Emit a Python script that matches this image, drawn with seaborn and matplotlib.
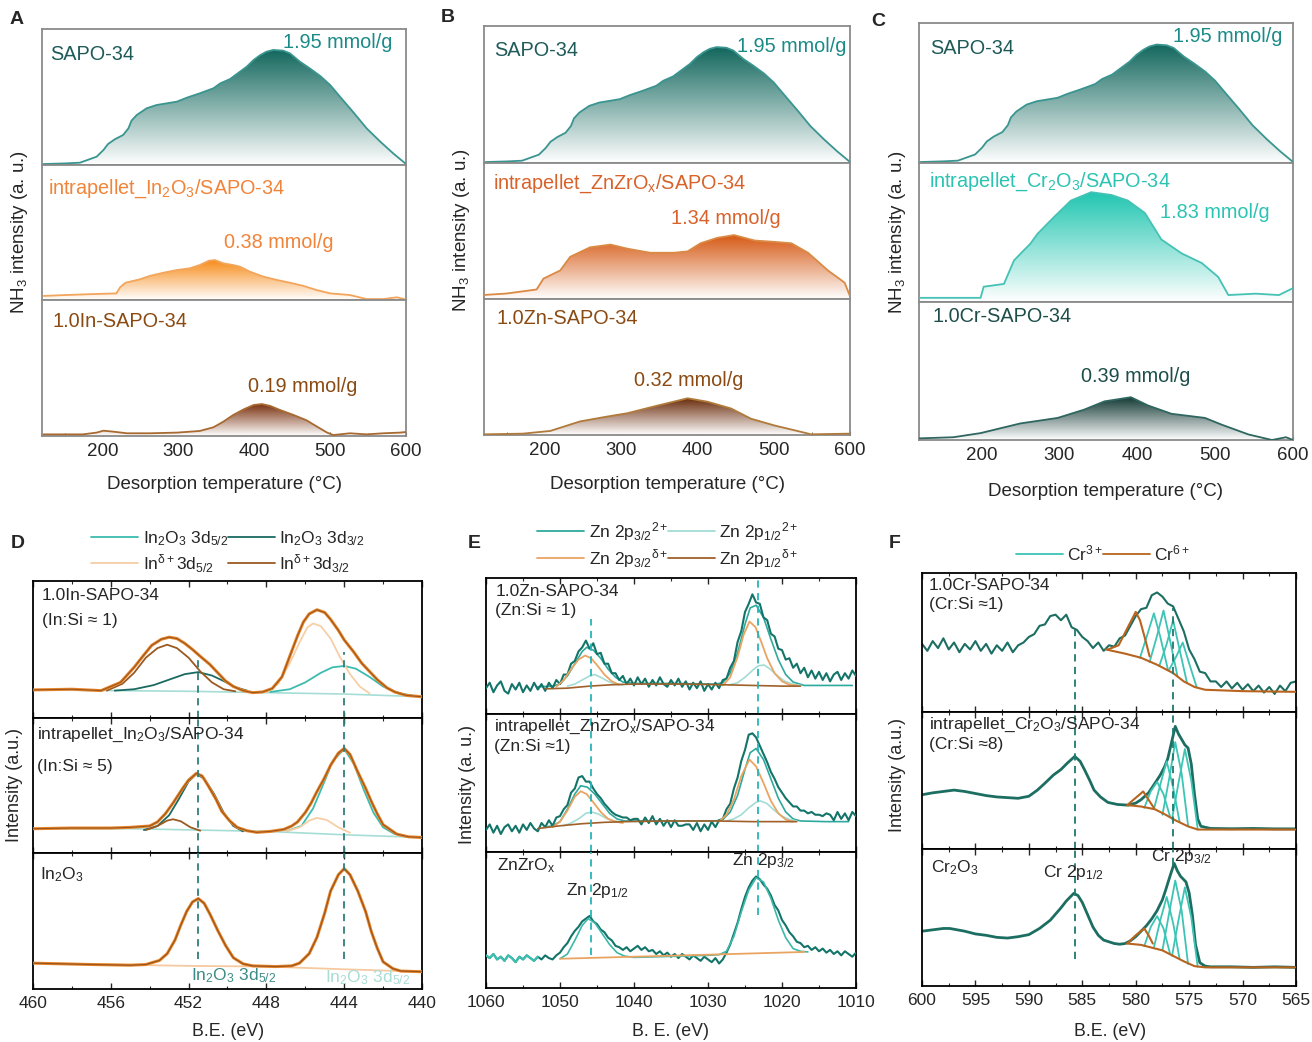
import numpy as np
import seaborn as sns
import matplotlib
matplotlib.use('Agg')
import matplotlib.pyplot as plt
from matplotlib.colors import LinearSegmentedColormap
from matplotlib.patches import Polygon
from matplotlib.lines import Line2D

sns.set_style('white')
plt.rcParams['font.family'] = ['Liberation Sans', 'DejaVu Sans']
plt.rcParams['mathtext.fontset'] = 'custom'
plt.rcParams['mathtext.rm'] = 'Liberation Sans'
plt.rcParams['mathtext.it'] = 'Liberation Sans:italic'
plt.rcParams['mathtext.bf'] = 'Liberation Sans:bold'
plt.rcParams['mathtext.default'] = 'regular'

# ---------------- NH3-TPD data (temperature in C, intensity as fraction of sub-panel) ----------------
SAPO_T = [122, 152, 170, 192, 201, 207, 216, 227, 234, 238, 245, 258, 271, 284, 298, 311, 328, 346, 355,
          368, 381, 390, 399, 408, 416, 425, 438, 447, 460, 473, 487, 500, 513, 531, 548, 566, 583, 599]
SAPO_Y = [0.007, 0.012, 0.017, 0.061, 0.110, 0.154, 0.189, 0.221, 0.270, 0.326, 0.368, 0.417, 0.441, 0.453,
          0.466, 0.495, 0.527, 0.564, 0.600, 0.632, 0.686, 0.723, 0.772, 0.809, 0.833, 0.846, 0.841, 0.821,
          0.760, 0.711, 0.654, 0.588, 0.502, 0.385, 0.270, 0.172, 0.086, 0.012]

IN_PEL_T = [122, 152, 188, 218, 223, 230, 249, 262, 280, 298, 315, 328, 340, 348, 359, 372, 381, 394, 412,
            430, 447, 465, 482, 500, 526, 548, 570, 588, 599]
IN_PEL_Y = [0.030, 0.037, 0.044, 0.049, 0.094, 0.128, 0.153, 0.178, 0.202, 0.222, 0.235, 0.259, 0.291, 0.296,
            0.272, 0.259, 0.247, 0.210, 0.173, 0.148, 0.128, 0.104, 0.074, 0.049, 0.037, 0.007, 0.007, 0.020, 0.005]

IN_SAPO_T = [122, 174, 192, 201, 214, 232, 262, 298, 328, 346, 359, 372, 386, 399, 410, 421, 434, 452, 469,
             482, 496, 504, 526, 548, 570, 592, 599]
IN_SAPO_Y = [0.012, 0.012, 0.025, 0.039, 0.032, 0.020, 0.020, 0.025, 0.037, 0.064, 0.105, 0.154, 0.196, 0.228,
             0.235, 0.221, 0.191, 0.154, 0.115, 0.071, 0.025, 0.007, 0.020, 0.012, 0.020, 0.025, 0.029]

ZN_PEL_T = [121, 149, 189, 198, 220, 233, 259, 286, 308, 338, 369, 387, 404, 426, 448, 475, 501, 523, 545, 571, 593, 600]
ZN_PEL_Y = [0.03, 0.04, 0.07, 0.15, 0.21, 0.31, 0.38, 0.40, 0.37, 0.34, 0.34, 0.35, 0.41, 0.45, 0.47, 0.43,
            0.42, 0.41, 0.34, 0.21, 0.12, 0.02]

ZN_SAPO_T = [121, 171, 207, 246, 281, 308, 343, 387, 413, 444, 470, 501, 527, 549, 600]
ZN_SAPO_Y = [0.005, 0.01, 0.03, 0.10, 0.135, 0.16, 0.21, 0.27, 0.245, 0.195, 0.12, 0.07, 0.035, 0.005, 0.01]

CR_PEL_T = [121, 199, 203, 229, 242, 263, 272, 293, 315, 341, 367, 388, 410, 431, 457, 483, 504, 517, 552, 582, 600]
CR_PEL_Y = [0.03, 0.03, 0.11, 0.13, 0.30, 0.42, 0.49, 0.61, 0.73, 0.79, 0.77, 0.73, 0.64, 0.45, 0.35, 0.28,
            0.18, 0.05, 0.06, 0.05, 0.10]

CR_SAPO_T = [121, 164, 199, 250, 298, 332, 358, 392, 414, 444, 487, 509, 543, 573, 591, 600]
CR_SAPO_Y = [0.012, 0.02, 0.05, 0.12, 0.16, 0.22, 0.28, 0.31, 0.25, 0.19, 0.16, 0.11, 0.04, 0.0, 0.02, 0.0]

# ---------------- In 3d XPS (panel D) ----------------
D1_ENV = [(460, 0.205), (458, 0.21), (456.5, 0.20), (455.5, 0.26), (454.8, 0.37), (454.3, 0.46), (453.9, 0.53),
          (453.4, 0.575), (453.0, 0.59), (452.6, 0.58), (452.2, 0.545), (451.8, 0.50), (451.4, 0.45),
          (450.9, 0.39), (450.5, 0.33), (450.1, 0.27), (449.7, 0.23), (449.2, 0.20), (448.7, 0.185),
          (448.2, 0.19), (447.7, 0.215), (447.2, 0.30), (446.8, 0.45), (446.4, 0.60), (446.1, 0.70),
          (445.8, 0.76), (445.4, 0.79), (445.0, 0.77), (444.7, 0.72), (444.3, 0.64), (444.0, 0.57),
          (443.5, 0.48), (443.1, 0.40), (442.7, 0.34), (442.3, 0.28), (441.8, 0.22), (441.4, 0.19),
          (440.8, 0.165), (440, 0.155)]
D1_BG = [(460, 0.205), (452, 0.195), (448, 0.185), (444, 0.175), (440, 0.155)]
D1_IN2O3_52 = [(447.8, 0.19), (446.8, 0.21), (446.0, 0.26), (445.2, 0.33), (444.6, 0.37), (444.0, 0.38),
               (443.4, 0.36), (442.7, 0.30), (442.0, 0.23), (441.2, 0.18), (440.5, 0.165)]
D1_IN2O3_32 = [(455.8, 0.20), (454.8, 0.21), (453.8, 0.24), (453.0, 0.28), (452.2, 0.32), (451.5, 0.335),
               (450.8, 0.31), (450.2, 0.27), (449.6, 0.225), (449.0, 0.20)]
D1_IND_52 = [(448.0, 0.19), (447.4, 0.25), (446.8, 0.40), (446.3, 0.55), (445.9, 0.66), (445.6, 0.69),
             (445.2, 0.67), (444.7, 0.58), (444.2, 0.44), (443.7, 0.32), (443.2, 0.23), (442.7, 0.18)]
D1_IND_32 = [(456.2, 0.20), (455.4, 0.25), (454.8, 0.33), (454.2, 0.44), (453.6, 0.51), (453.1, 0.535),
             (452.6, 0.51), (452.0, 0.44), (451.4, 0.34), (450.8, 0.26), (450.2, 0.21), (449.6, 0.195)]

D2_ENV = [(460, 0.18), (458, 0.185), (456, 0.185), (455, 0.19), (454, 0.20), (453.6, 0.23), (453.2, 0.29),
          (452.8, 0.37), (452.3, 0.48), (452.0, 0.54), (451.6, 0.59), (451.3, 0.57), (451.0, 0.50),
          (450.6, 0.40), (450.3, 0.31), (449.9, 0.24), (449.5, 0.19), (449.0, 0.165), (448.5, 0.153),
          (447.8, 0.16), (447.1, 0.175), (446.7, 0.20), (446.4, 0.23), (446.0, 0.30), (445.7, 0.37),
          (445.4, 0.455), (445.0, 0.56), (444.7, 0.65), (444.3, 0.74), (444.0, 0.775), (443.7, 0.73),
          (443.3, 0.60), (442.9, 0.48), (442.6, 0.38), (442.3, 0.29), (442.0, 0.21), (441.6, 0.17),
          (441.3, 0.14), (440.7, 0.12), (440, 0.115)]
D2_BG = [(460, 0.18), (455, 0.18), (451.5, 0.17), (448, 0.16), (444, 0.135), (440, 0.115)]
D2_IN2O3_52 = [(447.0, 0.16), (446.2, 0.20), (445.6, 0.33), (445.1, 0.50), (444.6, 0.68), (444.0, 0.77),
               (443.5, 0.66), (443.0, 0.47), (442.5, 0.30), (442.0, 0.19), (441.4, 0.14)]
D2_IN2O3_32 = [(454.3, 0.17), (453.6, 0.20), (453.0, 0.28), (452.5, 0.40), (452.0, 0.53), (451.6, 0.585),
               (451.2, 0.55), (450.7, 0.44), (450.2, 0.30), (449.7, 0.20), (449.2, 0.16)]
D2_IND_52 = [(447.0, 0.16), (446.3, 0.19), (445.8, 0.24), (445.4, 0.26), (444.9, 0.245), (444.3, 0.19), (443.7, 0.15)]
D2_IND_32 = [(454.2, 0.17), (453.6, 0.20), (453.1, 0.24), (452.8, 0.25), (452.4, 0.235), (451.9, 0.19), (451.4, 0.165)]

D3_ENV = [(460, 0.19), (457, 0.18), (455, 0.175), (454.2, 0.18), (453.5, 0.21), (453.1, 0.26), (452.7, 0.36),
          (452.4, 0.47), (452.1, 0.57), (451.8, 0.64), (451.5, 0.665), (451.2, 0.63), (450.9, 0.55),
          (450.5, 0.43), (450.1, 0.32), (449.7, 0.23), (449.2, 0.185), (448.7, 0.17), (447.5, 0.165),
          (446.7, 0.17), (446.3, 0.19), (445.8, 0.26), (445.4, 0.38), (445.0, 0.56), (444.7, 0.72),
          (444.3, 0.84), (444.0, 0.885), (443.7, 0.84), (443.3, 0.72), (442.9, 0.57), (442.6, 0.42),
          (442.3, 0.30), (442.0, 0.20), (441.5, 0.15), (441.1, 0.132), (440, 0.127)]
D3_BG = [(460, 0.19), (452, 0.17), (448, 0.165), (444, 0.145), (440, 0.127)]
D_REF = [451.5, 444.0]

# ---------------- Zn 2p XPS (panel E), raw on a 0.5 eV grid 1060 -> 1010 ----------------
E_GRID = np.arange(1060, 1009.75, -0.5)
E1_RAW = [0.19, 0.23, 0.16, 0.21, 0.24, 0.17, 0.15, 0.22, 0.18, 0.23,
          0.16, 0.21, 0.17, 0.23, 0.18, 0.22, 0.17, 0.23, 0.19, 0.25,
          0.22, 0.29, 0.29, 0.37, 0.39, 0.46, 0.49, 0.54, 0.48, 0.52,
          0.44, 0.45, 0.37, 0.37, 0.30, 0.30, 0.25, 0.28, 0.22, 0.26,
          0.21, 0.27, 0.22, 0.26, 0.20, 0.25, 0.21, 0.27, 0.22, 0.20,
          0.25, 0.21, 0.26, 0.20, 0.24, 0.18, 0.23, 0.19, 0.24, 0.17,
          0.22, 0.18, 0.23, 0.19, 0.25, 0.26, 0.34, 0.39, 0.53, 0.61,
          0.75, 0.81, 0.88, 0.82, 0.81, 0.71, 0.69, 0.59, 0.57, 0.48,
          0.47, 0.40, 0.41, 0.34, 0.37, 0.30, 0.34, 0.27, 0.32, 0.26,
          0.31, 0.25, 0.30, 0.24, 0.29, 0.31, 0.25, 0.30, 0.26, 0.32, 0.28]
E2_RAW = [0.16, 0.20, 0.14, 0.19, 0.13, 0.18, 0.20, 0.15, 0.19, 0.14,
          0.20, 0.16, 0.21, 0.17, 0.15, 0.21, 0.18, 0.23, 0.19, 0.25,
          0.26, 0.31, 0.34, 0.43, 0.46, 0.54, 0.55, 0.51, 0.51, 0.46,
          0.42, 0.39, 0.35, 0.32, 0.29, 0.27, 0.26, 0.25, 0.25, 0.23,
          0.24, 0.24, 0.20, 0.25, 0.21, 0.26, 0.20, 0.24, 0.19, 0.23,
          0.18, 0.23, 0.19, 0.19, 0.20, 0.20, 0.16, 0.21, 0.15, 0.20,
          0.16, 0.22, 0.18, 0.23, 0.24, 0.31, 0.35, 0.46, 0.54, 0.66,
          0.74, 0.85, 0.86, 0.83, 0.77, 0.71, 0.65, 0.58, 0.53, 0.47,
          0.43, 0.39, 0.36, 0.33, 0.33, 0.30, 0.30, 0.28, 0.29, 0.27,
          0.27, 0.26, 0.28, 0.27, 0.23, 0.29, 0.24, 0.28, 0.23, 0.29, 0.26]
E3_RAW = [0.24, 0.22, 0.25, 0.21, 0.23, 0.20, 0.24, 0.22, 0.19, 0.23,
          0.21, 0.24, 0.22, 0.20, 0.23, 0.21, 0.24, 0.22, 0.21, 0.24,
          0.26, 0.30, 0.33, 0.38, 0.42, 0.45, 0.49, 0.51, 0.53, 0.49,
          0.47, 0.43, 0.41, 0.37, 0.35, 0.31, 0.30, 0.28, 0.30, 0.27,
          0.29, 0.31, 0.28, 0.30, 0.27, 0.28, 0.25, 0.27, 0.24, 0.26,
          0.23, 0.25, 0.22, 0.25, 0.23, 0.21, 0.24, 0.22, 0.20, 0.23,
          0.21, 0.19, 0.22, 0.18, 0.21, 0.26, 0.32, 0.40, 0.48, 0.58,
          0.67, 0.74, 0.79, 0.82, 0.80, 0.76, 0.73, 0.68, 0.61, 0.57,
          0.50, 0.46, 0.41, 0.38, 0.34, 0.33, 0.30, 0.31, 0.28, 0.30,
          0.27, 0.29, 0.26, 0.28, 0.25, 0.27, 0.24, 0.27, 0.25, 0.23, 0.26]

E1_FIT = [(1053, 0.20), (1051, 0.205), (1050, 0.22), (1049, 0.28), (1048, 0.37), (1047, 0.46), (1046.4, 0.49),
          (1045.5, 0.47), (1044.5, 0.41), (1043.5, 0.33), (1042.5, 0.27), (1041.5, 0.235), (1040, 0.225),
          (1035, 0.225), (1029, 0.22), (1028, 0.23), (1027, 0.30), (1026, 0.45), (1025, 0.66), (1024.3, 0.78),
          (1023.5, 0.80), (1022.5, 0.71), (1021.5, 0.55), (1020.5, 0.40), (1019.5, 0.29), (1018.5, 0.235),
          (1017, 0.21), (1013, 0.21), (1010.5, 0.21)]
E1_OR_A = [(1050.5, 0.20), (1049.5, 0.25), (1048.5, 0.33), (1047.5, 0.40), (1046.6, 0.43), (1045.8, 0.41),
           (1045, 0.36), (1044, 0.29), (1043, 0.24), (1042, 0.215)]
E1_OR_B = [(1028, 0.21), (1027, 0.27), (1026, 0.42), (1025.2, 0.58), (1024.4, 0.68), (1023.6, 0.64),
           (1022.8, 0.53), (1022, 0.41), (1021, 0.30), (1020, 0.24), (1019, 0.215), (1018, 0.21)]
E1_LT_A = [(1049, 0.205), (1048, 0.22), (1047, 0.25), (1046, 0.28), (1045.3, 0.29), (1044.5, 0.27),
           (1043.5, 0.24), (1042.5, 0.22), (1041.5, 0.215)]
E1_LT_B = [(1027, 0.215), (1026, 0.23), (1025, 0.27), (1024, 0.32), (1023.2, 0.355), (1022.4, 0.36),
           (1021.6, 0.33), (1020.6, 0.28), (1019.6, 0.24), (1018.6, 0.22), (1017.5, 0.21)]
E1_BG = [(1052, 0.185), (1049, 0.19), (1046, 0.205), (1043, 0.215), (1040, 0.22), (1033, 0.22), (1028, 0.215),
         (1024, 0.21), (1020, 0.205), (1017.5, 0.205)]

E2_FIT = [(1052, 0.18), (1051, 0.19), (1050, 0.22), (1049, 0.31), (1048, 0.42), (1047.2, 0.48), (1046.3, 0.47),
          (1045.3, 0.42), (1044.3, 0.35), (1043.3, 0.28), (1042.3, 0.24), (1041.3, 0.225), (1036, 0.225),
          (1029, 0.225), (1028, 0.235), (1027, 0.29), (1026, 0.41), (1025, 0.60), (1024.3, 0.72), (1023.5, 0.75),
          (1022.5, 0.67), (1021.5, 0.53), (1020.5, 0.39), (1019.5, 0.29), (1018.5, 0.24), (1017.5, 0.225),
          (1014, 0.22), (1011, 0.22)]
E2_OR_A = [(1051, 0.18), (1050, 0.22), (1049, 0.30), (1048, 0.40), (1047.2, 0.44), (1046.4, 0.42),
           (1045.5, 0.36), (1044.5, 0.29), (1043.5, 0.24), (1042.5, 0.22), (1041.5, 0.21)]
E2_OR_B = [(1028.5, 0.22), (1027.5, 0.27), (1026.5, 0.38), (1025.5, 0.55), (1024.4, 0.67), (1023.5, 0.62),
           (1022.5, 0.50), (1021.5, 0.37), (1020.5, 0.28), (1019.5, 0.235), (1018.5, 0.22)]
E2_LT_A = [(1049.5, 0.19), (1048.5, 0.21), (1047.5, 0.24), (1046.5, 0.28), (1045.7, 0.29), (1044.8, 0.275),
           (1043.8, 0.245), (1042.8, 0.225), (1041.8, 0.22)]
E2_LT_B = [(1027.5, 0.225), (1026.5, 0.24), (1025.5, 0.27), (1024.5, 0.32), (1023.5, 0.36), (1022.9, 0.37),
           (1022, 0.35), (1021, 0.30), (1020, 0.26), (1019, 0.235), (1018, 0.225)]
E2_BG = [(1053, 0.17), (1050, 0.19), (1047, 0.205), (1044, 0.215), (1041, 0.22), (1035, 0.225), (1029, 0.225),
         (1024, 0.22), (1020, 0.22), (1018, 0.22)]

E3_FIT = [(1050, 0.215), (1049, 0.25), (1048, 0.35), (1047, 0.46), (1046.2, 0.51), (1045.3, 0.48), (1044.3, 0.40),
          (1043.3, 0.32), (1042.3, 0.26), (1041.3, 0.235), (1040, 0.225), (1030, 0.24), (1028.5, 0.245),
          (1027.5, 0.27), (1026.5, 0.38), (1025.5, 0.56), (1024.5, 0.72), (1023.5, 0.81), (1022.5, 0.78),
          (1021.5, 0.66), (1020.5, 0.50), (1019.5, 0.37), (1018.5, 0.29), (1017.5, 0.27), (1016.5, 0.265)]
E3_BG = [(1050, 0.215), (1040, 0.23), (1030, 0.245), (1017, 0.265)]
E_REF = [1045.8, 1023.3]

# ---------------- Cr 2p XPS (panel F) ----------------
F_GRID = np.arange(600, 564.75, -0.5)
F1_RAW = [0.49, 0.44, 0.51, 0.46, 0.53, 0.45, 0.50, 0.43, 0.49, 0.45,
          0.51, 0.44, 0.49, 0.42, 0.48, 0.44, 0.50, 0.43, 0.48, 0.50,
          0.54, 0.56, 0.62, 0.63, 0.69, 0.70, 0.66, 0.70, 0.61, 0.59,
          0.54, 0.51, 0.46, 0.50, 0.44, 0.48, 0.47, 0.53, 0.55, 0.62,
          0.69, 0.74, 0.75, 0.84, 0.86, 0.83, 0.78, 0.76, 0.67, 0.58,
          0.45, 0.38, 0.29, 0.28, 0.22, 0.22, 0.18, 0.22, 0.17, 0.21,
          0.16, 0.20, 0.15, 0.19, 0.14, 0.18, 0.13, 0.19, 0.15, 0.21, 0.22]
F1_BG = [(582.8, 0.45), (581, 0.42), (579.5, 0.39), (578, 0.34), (576.5, 0.28), (575.5, 0.22), (574.5, 0.18),
         (573.5, 0.16), (570, 0.15), (565, 0.145)]
F1_CR6 = [(582.6, 0.45), (581.6, 0.48), (580.8, 0.60), (580.0, 0.72), (579.6, 0.66), (579.1, 0.52), (578.7, 0.40)]
F1_CR3 = [[(579.6, 0.39), (578.9, 0.56), (578.3, 0.71), (577.7, 0.54), (577.0, 0.31)],
          [(578.7, 0.36), (578.0, 0.55), (577.4, 0.73), (576.8, 0.52), (576.1, 0.26)],
          [(577.8, 0.33), (577.1, 0.49), (576.5, 0.66), (575.9, 0.45), (575.2, 0.21)],
          [(576.9, 0.30), (576.2, 0.40), (575.6, 0.50), (575.0, 0.35), (574.3, 0.18)]]

F2_BE = [600, 599, 598, 597, 596, 595, 594, 593, 592, 591, 590, 589.2, 588.5, 587.7, 587, 586.4, 585.7, 585.2,
         584.8, 584.3, 583.9, 583.3, 582.6, 581.7, 580.7, 580, 579.5, 578.8, 578.2, 577.7, 577.3, 577, 576.7,
         576.3, 576, 575.7, 575.4, 575.1, 574.8, 574.5, 574.2, 573.9, 573, 571, 569, 567, 565]
F2_RAW = [0.396, 0.41, 0.42, 0.43, 0.42, 0.405, 0.39, 0.38, 0.375, 0.37, 0.385, 0.43, 0.48, 0.54, 0.58, 0.627,
          0.676, 0.64, 0.58, 0.50, 0.43, 0.38, 0.34, 0.325, 0.32, 0.335, 0.36, 0.41, 0.48, 0.54, 0.60, 0.66,
          0.76, 0.895, 0.84, 0.80, 0.76, 0.737, 0.62, 0.40, 0.22, 0.166, 0.15, 0.148, 0.15, 0.147, 0.147]
F2_BG = [(580.7, 0.32), (579.5, 0.31), (578.2, 0.29), (577.2, 0.25), (576.3, 0.21), (575.1, 0.165),
         (574.2, 0.142), (570, 0.142), (565, 0.142)]
F2_CR6 = [(580.8, 0.32), (580.2, 0.36), (579.3, 0.42), (578.8, 0.36), (578.3, 0.30)]
F2_CR3 = [[(579.2, 0.30), (578.6, 0.42), (578.0, 0.49), (577.4, 0.40), (576.8, 0.24)],
          [(578.3, 0.29), (577.7, 0.47), (577.1, 0.64), (576.5, 0.45), (575.9, 0.20)],
          [(577.5, 0.25), (576.9, 0.50), (576.3, 0.78), (575.7, 0.55), (575.1, 0.17)],
          [(576.6, 0.22), (576.0, 0.48), (575.4, 0.73), (574.8, 0.50), (574.2, 0.145)]]

F3_BE = [600, 599, 598, 597.4, 596, 595, 594, 593, 592, 591, 590, 589, 588, 587, 586.5, 585.8, 585.4, 585,
         584.5, 584, 583.5, 583, 582, 581.5, 581, 580.5, 580, 579.5, 579, 578.5, 578, 577.5, 577.2, 576.8,
         576.4, 576.1, 575.8, 575.3, 575, 574.7, 574.4, 574, 573.5, 573, 571, 569, 567, 565]
F3_RAW = [0.40, 0.41, 0.42, 0.42, 0.40, 0.38, 0.37, 0.355, 0.35, 0.36, 0.375, 0.42, 0.48, 0.57, 0.62, 0.676,
          0.66, 0.61, 0.52, 0.43, 0.37, 0.335, 0.31, 0.305, 0.31, 0.33, 0.36, 0.40, 0.44, 0.49, 0.55, 0.63,
          0.70, 0.80, 0.895, 0.84, 0.80, 0.76, 0.68, 0.52, 0.30, 0.17, 0.145, 0.14, 0.14, 0.136, 0.14, 0.136]
F3_BG = [(580.8, 0.31), (579.5, 0.30), (578.5, 0.28), (577.5, 0.26), (576.5, 0.22), (575.5, 0.18),
         (574.5, 0.145), (573.5, 0.136), (565, 0.136)]
F3_CR6 = [(580.8, 0.31), (580.0, 0.37), (579.2, 0.42), (578.8, 0.37), (578.4, 0.31)]
F3_CR3 = [[(579.2, 0.29), (578.6, 0.43), (578.0, 0.51), (577.4, 0.42), (576.8, 0.24)],
          [(578.3, 0.28), (577.7, 0.48), (577.1, 0.65), (576.5, 0.46), (575.9, 0.20)],
          [(577.5, 0.26), (576.9, 0.52), (576.3, 0.77), (575.7, 0.55), (575.1, 0.16)],
          [(576.6, 0.22), (576.0, 0.48), (575.4, 0.72), (574.8, 0.50), (574.2, 0.14)]]
F_REF = [585.7, 576.5]

# ---------------- figure helpers ----------------
W, H = 1312, 1042
fig = plt.figure(figsize=(W / 100, H / 100), dpi=100)


def box(l, t, r, b):
    return fig.add_axes([l / W, 1 - b / H, (r - l) / W, (b - t) / H])


def txt(x, y, s, **kw):
    kw.setdefault('va', 'center')
    kw.setdefault('ha', 'left')
    fig.text(x / W, 1 - y / H, s, **kw)


def line(ax, xs, ys, c, lw, z=2):
    sns.lineplot(x=list(xs), y=list(ys), ax=ax, color=c, lw=lw, sort=False,
                 estimator=None, legend=False, zorder=z)


def pline(ax, pts, c, lw, z=2):
    xs, ys = zip(*pts)
    line(ax, xs, ys, c, lw, z)


def grad_fill(ax, xs, ys, color):
    xs = np.asarray(xs, float)
    ys = np.asarray(ys, float)
    verts = np.column_stack([np.r_[xs, xs[::-1]], np.r_[ys, np.zeros_like(ys)]])
    poly = Polygon(verts, closed=True, fc='none', ec='none')
    ax.add_patch(poly)
    cmap = LinearSegmentedColormap.from_list('g', ['white', color])
    im = ax.imshow(np.linspace(0, 1, 256).reshape(-1, 1), cmap=cmap, aspect='auto', origin='lower',
                   extent=[xs.min(), xs.max(), 0, ys.max()], zorder=1)
    im.set_clip_path(poly)


def tpd_panel(l, r, rows, curves):
    axs = []
    for i, ((t, b), (xs, ys, fc, lc)) in enumerate(zip(rows, curves)):
        ax = box(l, t, r, b)
        grad_fill(ax, xs, ys, fc)
        line(ax, xs, ys, lc, 1.3, 3)
        ax.set_xlim(120, 600)
        ax.set_ylim(0, 1)
        ax.set_yticks([])
        for s in ax.spines.values():
            s.set_color('#8a8a8a')
            s.set_linewidth(1.3)
        if i == 2:
            ax.set_xticks([200, 300, 400, 500, 600])
            ax.set_xticks([150, 250, 350, 450, 550], minor=True)
            ax.tick_params(axis='x', which='both', direction='in', bottom=True, labelsize=13.5,
                           pad=5, color='#555555')
            ax.tick_params(axis='x', which='major', length=3)
            ax.tick_params(axis='x', which='minor', length=2)
        else:
            ax.set_xticks([])
        axs.append(ax)
    return axs


def xps_panel(l, r, rows, xlim, major, minor):
    axs = []
    for i, (t, b) in enumerate(rows):
        ax = box(l, t, r, b)
        ax.set_xlim(*xlim)
        ax.set_ylim(0, 1)
        ax.set_yticks([])
        ax.set_xticks(major)
        ax.set_xticks(minor, minor=True)
        ax.tick_params(axis='x', which='both', direction='in', top=True, bottom=True,
                       labelbottom=(i == 2), labelsize=12.5, pad=5)
        ax.tick_params(axis='x', which='major', length=4, width=1)
        ax.tick_params(axis='x', which='minor', length=2.5, width=0.8)
        for s in ax.spines.values():
            s.set_color('black')
            s.set_linewidth(1.3)
        axs.append(ax)
    return axs


def refs(ax, xs, spans, color):
    for x, (lo, hi) in zip(xs, spans):
        ax.axvline(x, ymin=lo, ymax=hi, color=color, lw=1.3, ls=(0, (4, 3)), zorder=5)


# ---------------- panels A-C (NH3-TPD) ----------------
C_SAPO = ('#12675d', '#3a9590')
tpd_panel(42, 406, [(29, 165), (165, 300), (300, 436)],
          [(SAPO_T, SAPO_Y) + C_SAPO,
           (IN_PEL_T, IN_PEL_Y, '#f78d1c', '#f3a55c'),
           (IN_SAPO_T, IN_SAPO_Y, '#7a3210', '#a86a30')])
tpd_panel(484, 850, [(26, 163), (163, 299), (299, 435)],
          [(SAPO_T, SAPO_Y) + C_SAPO,
           (ZN_PEL_T, ZN_PEL_Y, '#d65a16', '#d98a45'),
           (ZN_SAPO_T, ZN_SAPO_Y, '#6a2c0c', '#b07a3a')])
tpd_panel(919, 1293, [(23, 163), (163, 302), (302, 440)],
          [(SAPO_T, SAPO_Y) + C_SAPO,
           (CR_PEL_T, CR_PEL_Y, '#22c6b1', '#45c2b5'),
           (CR_SAPO_T, CR_SAPO_Y, '#143a35', '#2f6660')])

fs = 14.3
for x0, y0 in [(50, 54), (494, 50), (930, 48)]:
    txt(x0, y0, 'SAPO-34', color='#1d5a58', size=fs)
for x0, y0 in [(392, 43), (846, 46), (1282, 37)]:
    txt(x0, y0, '1.95 mmol/g', color='#1b8b88', size=fs, ha='right')
txt(48, 189, r'intrapellet_In$_2$O$_3$/SAPO-34', color='#f0843a', size=fs)
txt(224, 242, '0.38 mmol/g', color='#f0843a', size=fs)
txt(52, 322, '1.0In-SAPO-34', color='#8a4a12', size=fs)
txt(248, 387, '0.19 mmol/g', color='#8a4a12', size=fs)
txt(493, 184, r'intrapellet_ZnZrO$_x$/SAPO-34', color='#d8622a', size=fs)
txt(671, 219, '1.34 mmol/g', color='#d8622a', size=fs)
txt(497, 319, '1.0Zn-SAPO-34', color='#8a4a12', size=fs)
txt(634, 380, '0.32 mmol/g', color='#8a4a12', size=fs)
txt(929, 182, r'intrapellet_Cr$_2$O$_3$/SAPO-34', color='#2cc3b3', size=fs)
txt(1160, 213, '1.83 mmol/g', color='#2cc3b3', size=fs)
txt(932, 316, '1.0Cr-SAPO-34', color='#1d4e4a', size=fs)
txt(1081, 376, '0.39 mmol/g', color='#1d4e4a', size=fs)

for x0, y0 in [(20, 232), (462, 230), (898, 232)]:
    txt(x0, y0, r'NH$_3$ intensity (a. u.)', rotation=90, ha='center', size=13.5)
for x0, y0 in [(224, 485), (667, 485), (1106, 491)]:
    txt(x0, y0, 'Desorption temperature (°C)', ha='center', size=13.5)

# ---------------- panel D (In 3d) ----------------
c_in52, c_in32, c_d52, c_d32 = '#3cbcaf', '#1b6a62', '#f6cfa6', '#9a5a22'
c_env, c_fit = '#e8862c', '#9c561c'
dax = xps_panel(33, 422, [(581, 718), (718, 853), (853, 989)], (460, 440),
                [460, 456, 452, 448, 444, 440], [458, 454, 450, 446, 442])
for ax, bg, comps, env in [
        (dax[0], D1_BG, [(D1_IN2O3_52, c_in52), (D1_IN2O3_32, c_in32), (D1_IND_52, c_d52), (D1_IND_32, c_d32)], D1_ENV),
        (dax[1], D2_BG, [(D2_IN2O3_52, c_in52), (D2_IN2O3_32, c_in32), (D2_IND_52, c_d52), (D2_IND_32, c_d32)], D2_ENV)]:
    pline(ax, bg, '#a6ddd5', 1.2, 2)
    for pts, c in comps:
        pline(ax, pts, c, 1.3, 3)
    pline(ax, env, c_env, 2.2, 4)
    pline(ax, env, c_fit, 0.8, 4)
pline(dax[2], D3_BG, '#f6c9a0', 1.3, 2)
pline(dax[2], D3_ENV, c_env, 2.2, 4)
pline(dax[2], D3_ENV, c_fit, 0.9, 4)
refs(dax[0], D_REF, [(0, 0.46), (0, 0.48)], '#2f7f7a')
refs(dax[1], D_REF, [(0, 1), (0, 1)], '#2f7f7a')
refs(dax[2], D_REF, [(0.22, 1), (0.22, 1)], '#2f7f7a')

sx = 12.5
txt(42, 596, '1.0In-SAPO-34', size=sx)
txt(42, 621, '(In:Si ≈ 1)', size=sx)
txt(37, 735, r'intrapellet_In$_2$O$_3$/SAPO-34', size=sx)
txt(37, 766, '(In:Si ≈ 5)', size=sx)
txt(40, 875, r'In$_2$O$_3$', size=sx)
txt(191, 976, r'In$_2$O$_3$ 3d$_{5/2}$', size=sx, color='#3b8c87')
txt(325, 978, r'In$_2$O$_3$ 3d$_{5/2}$', size=sx, color='#a9dcd5')
txt(15, 785, 'Intensity (a.u.)', rotation=90, ha='center', size=13)
txt(228, 1031, 'B.E. (eV)', ha='center', size=12.8)

lg = dict(loc='center', ncol=2, frameon=False, fontsize=12.5, handlelength=2.7, handletextpad=0.25,
          columnspacing=0.0, labelspacing=0.25)
hd = [Line2D([0], [0], color=c_in52, lw=1.3), Line2D([0], [0], color=c_d52, lw=1.3),
      Line2D([0], [0], color=c_in32, lw=1.3), Line2D([0], [0], color=c_d32, lw=1.3)]
ld = [r'In$_2$O$_3$ 3d$_{5/2}$', r'In$^{δ+}$3d$_{5/2}$', r'In$_2$O$_3$ 3d$_{3/2}$', r'In$^{δ+}$3d$_{3/2}$']
fig.legend(hd, ld, bbox_to_anchor=(228 / W, 1 - 552 / H), **lg)

# ---------------- panel E (Zn 2p) ----------------
c_raw, c_zfit, c_lt, c_or, c_br = '#137469', '#2fa99d', '#a3dcd5', '#eaa462', '#a0602a'
eax = xps_panel(486, 856, [(578, 714), (714, 852), (852, 988)], (1060, 1010),
                [1060, 1050, 1040, 1030, 1020, 1010], [1055, 1045, 1035, 1025, 1015])
for ax, raw, fit, ora, orb, lta, ltb, bg in [
        (eax[0], E1_RAW, E1_FIT, E1_OR_A, E1_OR_B, E1_LT_A, E1_LT_B, E1_BG),
        (eax[1], E2_RAW, E2_FIT, E2_OR_A, E2_OR_B, E2_LT_A, E2_LT_B, E2_BG)]:
    pline(ax, fit, c_zfit, 1.2, 2)
    line(ax, E_GRID, raw, c_raw, 1.5, 3)
    for pts in (lta, ltb):
        pline(ax, pts, c_lt, 1.2, 4)
    for pts in (ora, orb):
        pline(ax, pts, c_or, 1.3, 4)
    pline(ax, bg, c_br, 1.2, 4)
line(eax[2], E_GRID, E3_RAW, c_raw, 1.5, 3)
line(eax[2], E_GRID[:15], E3_RAW[:15], '#3cc0b2', 1.5, 3)
pline(eax[2], E3_FIT, '#3cb8aa', 1.2, 4)
pline(eax[2], E3_BG, c_or, 1.3, 4)
refs(eax[0], E_REF, [(0, 0.70), (0, 1)], '#27b5b8')
refs(eax[1], E_REF, [(0, 1), (0, 1)], '#27b5b8')
refs(eax[2], E_REF, [(0.24, 1), (0.535, 1)], '#27b5b8')

txt(496, 591, '1.0Zn-SAPO-34', size=sx)
txt(495, 611, '(Zn:Si ≈ 1)', size=sx)
txt(494, 727, r'intrapellet_ZnZrO$_x$/SAPO-34', size=sx)
txt(494, 747, '(Zn:Si ≈1)', size=sx)
txt(497, 866, r'ZnZrO$_x$', size=sx)
txt(566, 890, r'Zn 2p$_{1/2}$', size=sx)
txt(732, 861, r'Zn 2p$_{3/2}$', size=sx)
txt(468, 785, 'Intensity (a. u.)', rotation=90, ha='center', size=13)
txt(671, 1031, 'B. E. (eV)', ha='center', size=12.8)

he = [Line2D([0], [0], color=c_zfit, lw=1.3), Line2D([0], [0], color=c_or, lw=1.3),
      Line2D([0], [0], color=c_lt, lw=1.3), Line2D([0], [0], color=c_br, lw=1.3)]
le = [r'Zn 2p$_{3/2}$$^{2+}$', r'Zn 2p$_{3/2}$$^{δ+}$', r'Zn 2p$_{1/2}$$^{2+}$', r'Zn 2p$_{1/2}$$^{δ+}$']
fig.legend(he, le, bbox_to_anchor=(668 / W, 1 - 545 / H), **lg)

# ---------------- panel F (Cr 2p) ----------------
c_fraw, c_cr3, c_cr6 = '#1d6e62', '#3cc4b4', '#b8641e'
fax = xps_panel(922, 1296, [(573, 712), (712, 849), (849, 986)], (600, 565),
                [600, 595, 590, 585, 580, 575, 570, 565],
                [597.5, 592.5, 587.5, 582.5, 577.5, 572.5, 567.5])
line(fax[0], F_GRID, F1_RAW, c_fraw, 1.5, 2)
line(fax[1], F2_BE, F2_RAW, c_fraw, 2.0, 2)
line(fax[2], F3_BE, F3_RAW, c_fraw, 2.0, 2)
for ax, bg, cr6, cr3 in [(fax[0], F1_BG, F1_CR6, F1_CR3), (fax[1], F2_BG, F2_CR6, F2_CR3),
                         (fax[2], F3_BG, F3_CR6, F3_CR3)]:
    for pts in cr3:
        pline(ax, pts, c_cr3, 1.3, 3)
    pline(ax, bg, c_cr6, 1.5, 4)
    pline(ax, cr6, c_cr6, 1.5, 4)
refs(fax[0], F_REF, [(0, 0.59), (0, 0.75)], '#1f7a70')
refs(fax[1], F_REF, [(0, 1), (0, 1)], '#1f7a70')
refs(fax[2], F_REF, [(0.20, 1), (0.88, 1)], '#1f7a70')

txt(929, 585, '1.0Cr-SAPO-34', size=sx)
txt(929, 604, '(Cr:Si ≈1)', size=sx)
txt(929, 725, r'intrapellet_Cr$_2$O$_3$/SAPO-34', size=sx)
txt(929, 745, '(Cr:Si ≈8)', size=sx)
txt(931, 868, r'Cr$_2$O$_3$', size=sx)
txt(1043, 873, r'Cr 2p$_{1/2}$', size=sx)
txt(1151, 857, r'Cr 2p$_{3/2}$', size=sx)
txt(897, 775, 'Intensity (a.u.)', rotation=90, ha='center', size=13)
txt(1110, 1031, 'B.E. (eV)', ha='center', size=12.8)

hf = [Line2D([0], [0], color=c_cr3, lw=1.3), Line2D([0], [0], color=c_cr6, lw=1.3)]
fig.legend(hf, [r'Cr$^{3+}$', r'Cr$^{6+}$'], bbox_to_anchor=(1103 / W, 1 - 553 / H), **lg)

# panel letters
for s, x0, y0 in [('A', 17, 20), ('B', 448, 17), ('C', 878, 21), ('D', 18, 543), ('E', 474, 543), ('F', 895, 543)]:
    txt(x0, y0, s, ha='center', size=14, weight='bold')

fig.savefig('out.png', dpi=100)
